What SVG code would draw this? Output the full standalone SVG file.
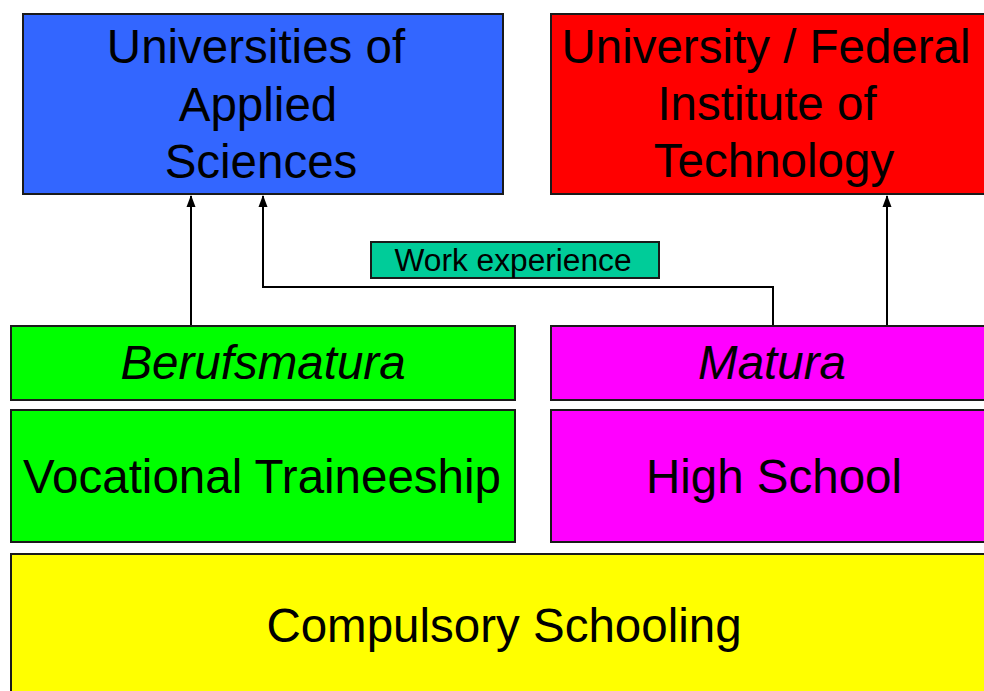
<svg xmlns="http://www.w3.org/2000/svg" width="984" height="691" viewBox="0 0 984 691">
<style>
.box{stroke:#1a1a1a;stroke-width:2}
.t{font-family:"Liberation Sans",Arial,sans-serif;font-size:47.5px;fill:#000;text-anchor:middle}
.i{font-style:italic}
.conn{fill:none;stroke:#000;stroke-width:2}
</style>
<defs>
<marker id="arr" viewBox="0 0 12 10" refX="11" refY="5" markerWidth="12" markerHeight="10" markerUnits="userSpaceOnUse" orient="auto">
<path d="M12,5 L0,0.5 L0,9.5 Z" fill="#000"/>
</marker>
</defs>
<rect width="984" height="691" fill="#fff"/>
<g id="connectors">
<path class="conn" d="M191,326 V196" marker-end="url(#arr)"/>
<path class="conn" d="M773,326 V287 H263 V196" marker-end="url(#arr)"/>
<path class="conn" d="M887,326 V196" marker-end="url(#arr)"/>
</g>
<g id="uas">
<rect class="box" x="23" y="14" width="480" height="180" fill="#3366FF"/>
<text class="t" x="256" y="63">Universities of</text>
<text class="t" x="258" y="121">Applied</text>
<text class="t" x="261" y="178">Sciences</text>
</g>
<g id="university">
<rect class="box" x="551" y="14" width="446" height="180" fill="#FF0000"/>
<text class="t" x="766" y="63" font-size="48">University / Federal</text>
<text class="t" x="767" y="120" font-size="48">Institute of</text>
<text class="t" x="774" y="177" font-size="48">Technology</text>
</g>
<g id="work">
<rect class="box" x="371" y="242" width="288" height="36" fill="#00CC99" stroke-width="1.5"/>
<text x="513" y="271" font-family="Liberation Sans, Arial, sans-serif" font-size="31" text-anchor="middle" textLength="237" lengthAdjust="spacingAndGlyphs">Work experience</text>
</g>
<g id="berufsmatura">
<rect class="box" x="11" y="326" width="504" height="74" fill="#00FF00"/>
<text class="t i" x="263" y="379">Berufsmatura</text>
</g>
<g id="matura">
<rect class="box" x="551" y="326" width="446" height="74" fill="#FF00FF"/>
<text class="t i" x="772" y="379">Matura</text>
</g>
<g id="vocational">
<rect class="box" x="11" y="410" width="504" height="132" fill="#00FF00"/>
<text class="t" x="262" y="493" font-size="49.5">Vocational Traineeship</text>
</g>
<g id="highschool">
<rect class="box" x="551" y="410" width="446" height="132" fill="#FF00FF"/>
<text class="t" x="774" y="493" font-size="49.5">High School</text>
</g>
<g id="compulsory">
<rect class="box" x="11" y="554" width="986" height="150" fill="#FFFF00"/>
<text class="t" x="504" y="642" font-size="49.5">Compulsory Schooling</text>
</g>
</svg>
